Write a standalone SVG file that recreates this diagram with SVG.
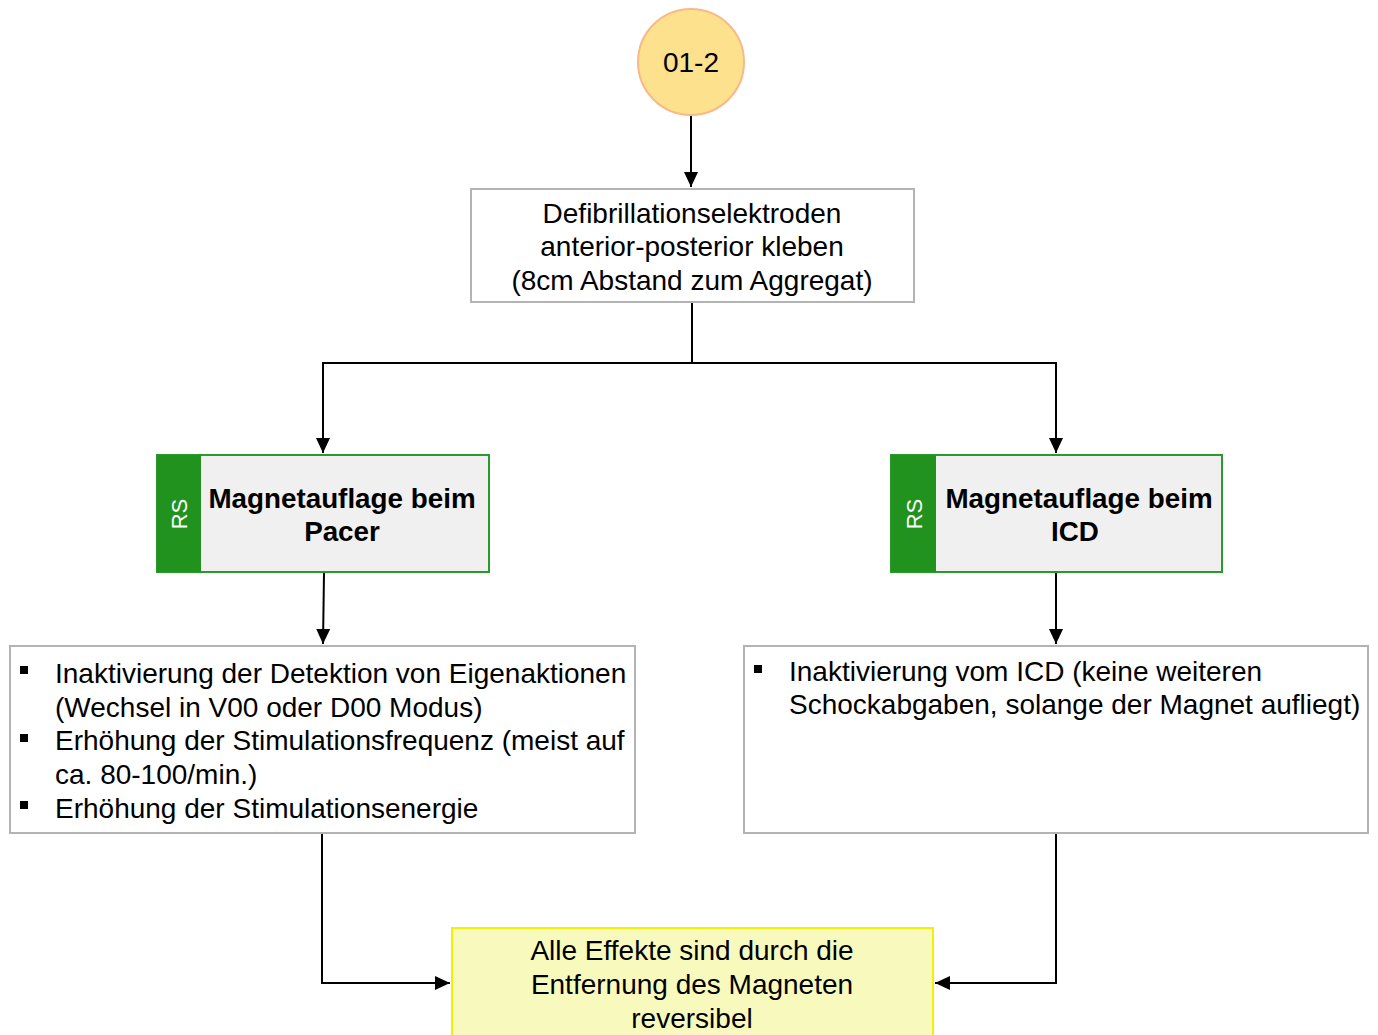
<svg xmlns="http://www.w3.org/2000/svg" width="1378" height="1035" viewBox="0 0 1378 1035">
<style>
.t{font-family:"Liberation Sans",Arial,sans-serif;font-size:28px;fill:#000}
.c{text-anchor:middle}
.b{font-weight:bold;font-size:27.8px}
.rs{font-family:"Liberation Sans",Arial,sans-serif;font-size:22px;fill:#fff;text-anchor:middle}
.box{fill:#fff;stroke:#b3b3b3;stroke-width:2}
.gbox{fill:#f0f0f0;stroke:#2a9a2a;stroke-width:2}
.strip{fill:#22921f}
.ln{fill:none;stroke:#000;stroke-width:2}
.bul{fill:#000}
</style>
<defs>
<marker id="a" markerWidth="16" markerHeight="16" refX="15" refY="8" orient="auto" markerUnits="userSpaceOnUse" viewBox="0 0 16 16">
<path d="M0,1 L15,8 L0,15 z" fill="#000"/>
</marker>
</defs>
<rect width="1378" height="1035" fill="#fff"/>
<g id="connectors">
<path class="ln" d="M691,116 V187" marker-end="url(#a)"/>
<path class="ln" d="M692,303 V363 H323 V453" marker-end="url(#a)"/>
<path class="ln" d="M692,363 H1056 V453" marker-end="url(#a)"/>
<path class="ln" d="M324,573 L323,644" marker-end="url(#a)"/>
<path class="ln" d="M1056,573 V644" marker-end="url(#a)"/>
<path class="ln" d="M322,834 V983 H450" marker-end="url(#a)"/>
<path class="ln" d="M1056,834 V983 H935" marker-end="url(#a)"/>
</g>
<g id="start">
<circle cx="691" cy="62" r="53" fill="#fde18c" stroke="#f8b98a" stroke-width="2"/>
<text class="t c" x="691" y="72" font-size="26">01-2</text>
</g>
<g id="electrodes">
<rect class="box" x="471" y="189" width="443" height="113"/>
<text class="t c" x="692" y="223">Defibrillationselektroden</text>
<text class="t c" x="692" y="256">anterior-posterior kleben</text>
<text class="t c" x="692" y="290">(8cm Abstand zum Aggregat)</text>
</g>
<g id="pacer">
<rect class="gbox" x="157" y="455" width="332" height="117"/>
<rect class="strip" x="157" y="455" width="44" height="117"/>
<text class="rs" transform="translate(187,514) rotate(-90)">RS</text>
<text class="t c b" x="342" y="508">Magnetauflage beim</text>
<text class="t c b" x="342" y="541">Pacer</text>
</g>
<g id="icd">
<rect class="gbox" x="891" y="455" width="331" height="117"/>
<rect class="strip" x="891" y="455" width="45" height="117"/>
<text class="rs" transform="translate(922,514) rotate(-90)">RS</text>
<text class="t c b" x="1079" y="508">Magnetauflage beim</text>
<text class="t c b" x="1075" y="541">ICD</text>
</g>
<g id="pacer-effects">
<rect class="box" x="10" y="646" width="625" height="187"/>
<rect class="bul" x="20" y="666" width="8" height="8"/>
<rect class="bul" x="20" y="734" width="8" height="8"/>
<rect class="bul" x="20" y="801" width="8" height="8"/>
<text class="t" x="55" y="683">Inaktivierung der Detektion von Eigenaktionen</text>
<text class="t" x="55" y="717">(Wechsel in V00 oder D00 Modus)</text>
<text class="t" x="55" y="750">Erhöhung der Stimulationsfrequenz (meist auf</text>
<text class="t" x="55" y="784">ca. 80-100/min.)</text>
<text class="t" x="55" y="818">Erhöhung der Stimulationsenergie</text>
</g>
<g id="icd-effects">
<rect class="box" x="744" y="646" width="624" height="187"/>
<rect class="bul" x="754" y="665" width="8" height="8"/>
<text class="t" x="789" y="681">Inaktivierung vom ICD (keine weiteren</text>
<text class="t" x="789" y="714">Schockabgaben, solange der Magnet aufliegt)</text>
</g>
<g id="reversible">
<rect x="452" y="928" width="481" height="120" fill="#f8fabd" stroke="#f2f200" stroke-width="2"/>
<text class="t c" x="692" y="960">Alle Effekte sind durch die</text>
<text class="t c" x="692" y="994">Entfernung des Magneten</text>
<text class="t c" x="692" y="1028">reversibel</text>
</g>
</svg>
